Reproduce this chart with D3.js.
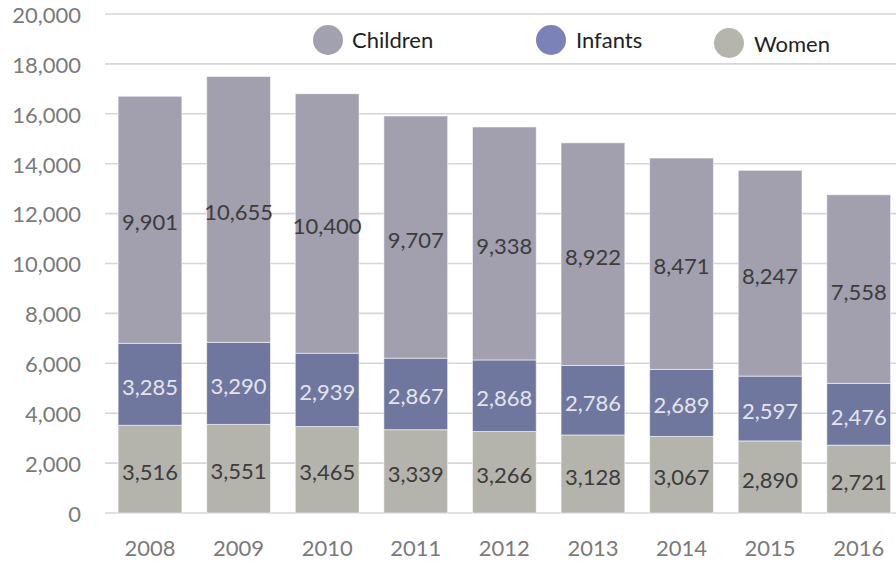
<!DOCTYPE html>
<html>
<head>
<meta charset="utf-8">
<script src="https://cdn.jsdelivr.net/npm/d3@7"></script>
<style>
  html, body { margin: 0; padding: 0; background: #fff; }
  svg { display: block; font-family: Lato, "Open Sans", sans-serif; }
</style>
</head>
<body>
<svg id="chart" width="896" height="563"></svg>
<script>
// Participants by year, stacked from the bottom: women, infants, children
const years = ["2008", "2009", "2010", "2011", "2012", "2013", "2014", "2015", "2016"];
const women = [3516, 3551, 3465, 3339, 3266, 3128, 3067, 2890, 2721];
const infants = [3285, 3290, 2939, 2867, 2868, 2786, 2689, 2597, 2476];
const children = [9901, 10655, 10400, 9707, 9338, 8922, 8471, 8247, 7558];
const yTicks = [0, 2000, 4000, 6000, 8000, 10000, 12000, 14000, 16000, 18000, 20000];

const seriesNames = ["Women", "Infants", "Children"];
const barColor = { Women: "#b4b4ac", Infants: "#6f779f", Children: "#a29fae" };
const legendColor = { Women: "#b5b5ad", Infants: "#7a82b8", Children: "#a2a1b0" };
const labelColor = { Women: "#3c3c3c", Infants: "#e4e4ee", Children: "#3c3c3c" };

const svg = d3.select("#chart");

const y = d3.scaleLinear().domain([0, 20000]).range([513, 14]);
const x = d3.scaleBand().domain(years).range([105.7, 903])
  .paddingInner(0.28).paddingOuter(0.14);

// Gridlines
svg.append("g").selectAll("line").data(yTicks).join("line")
  .attr("x1", 105).attr("x2", 896)
  .attr("y1", d => y(d)).attr("y2", d => y(d))
  .attr("stroke", "#d6d6d6").attr("stroke-width", 1.6);

// Y tick labels
const fmt = d3.format(",");
svg.append("g").selectAll("text").data(yTicks).join("text")
  .attr("x", 81).attr("y", d => y(d)).attr("dy", "0.4em")
  .attr("text-anchor", "end").attr("fill", "#7a7a7a")
  .attr("font-size", 22).text(d => fmt(d));

// X labels
svg.append("g").selectAll("text").data(years).join("text")
  .attr("x", d => x(d) + x.bandwidth() / 2).attr("y", 556)
  .attr("text-anchor", "middle").attr("fill", "#7a7a7a")
  .attr("font-size", 22).text(d => d);

// Stacked data
const rows = years.map((yr, i) => ({ year: yr, Women: women[i], Infants: infants[i], Children: children[i] }));
const stack = d3.stack().keys(seriesNames)(rows);

const layers = svg.append("g").selectAll("g").data(stack).join("g");
layers.selectAll("rect").data(d => d.map(v => ({ key: d.key, v }))).join("rect")
  .attr("x", d => x(d.v.data.year))
  .attr("width", x.bandwidth())
  .attr("y", d => y(d.v[1]))
  .attr("height", d => y(d.v[0]) - y(d.v[1]))
  .attr("fill", d => barColor[d.key])
  .attr("stroke", "#ffffff").attr("stroke-opacity", 0.55).attr("stroke-width", 1);

layers.selectAll("text").data(d => d.map(v => ({ key: d.key, v }))).join("text")
  .attr("x", d => x(d.v.data.year) + x.bandwidth() / 2)
  .attr("y", d => y((d.v[0] + d.v[1]) / 2))
  .attr("dy", "0.48em")
  .attr("text-anchor", "middle")
  .attr("fill", d => labelColor[d.key])
  .attr("font-size", 22)
  .text(d => fmt(d.v.data[d.key]));

// Legend
const legendItems = [
  { name: "Children", cx: 328, cy: 40, tx: 352, ty: 48 },
  { name: "Infants", cx: 551, cy: 40, tx: 576, ty: 48 },
  { name: "Women", cx: 729, cy: 43, tx: 754, ty: 52 }
];
const lg = svg.append("g").selectAll("g").data(legendItems).join("g");
lg.append("circle").attr("cx", d => d.cx).attr("cy", d => d.cy).attr("r", 15)
  .attr("fill", d => legendColor[d.name]);
lg.append("text").attr("x", d => d.tx).attr("y", d => d.ty)
  .attr("fill", "#222").attr("font-size", 22).text(d => d.name);
</script>
</body>
</html>
